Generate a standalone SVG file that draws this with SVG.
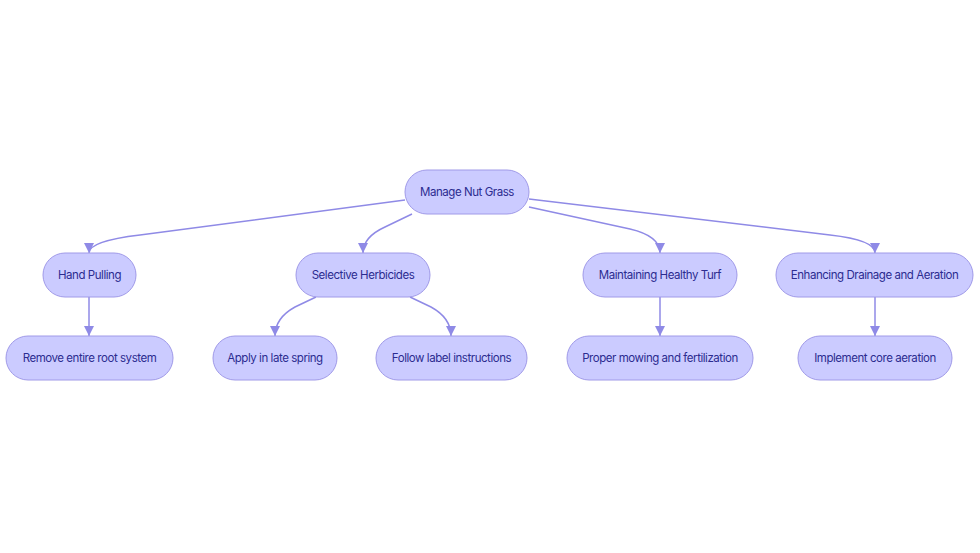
<svg xmlns="http://www.w3.org/2000/svg" width="980" height="553" viewBox="0 0 980 553">
<defs>
<marker id="arr" viewBox="0 0 10 10" refX="10" refY="5" markerWidth="10" markerHeight="10" markerUnits="userSpaceOnUse" orient="auto">
<path d="M0,0 L10,5 L0,10 z" fill="#8f8ae6"/>
</marker>
<style>
.n rect{fill:#cbcbff;stroke:#a09ae8;stroke-width:1}
.n text{font-family:Inter,"Open Sans","Liberation Sans",sans-serif;font-size:11.5px;letter-spacing:-0.45px;fill:#2c2c90;text-anchor:middle;dominant-baseline:central}
.e path{fill:none;stroke:#8f8ae6;stroke-width:1.5;marker-end:url(#arr)}
</style>
</defs>
<rect width="980" height="553" fill="#ffffff"/>
<g class="e" id="edges">
<path d="M405,200 L140,235 Q89,241 89,253"/>
<path d="M412,214 L385,227 Q363,237 363,253"/>
<path d="M529,207 L630,229 Q660,236 660,253"/>
<path d="M529,199 L830,235 Q875,240 875,253"/>
<path d="M89,297 L89,336"/>
<path d="M316,297 L295,307 Q275,318 275,336"/>
<path d="M410,297 L431,307 Q451,318 451,336"/>
<path d="M660,297 L660,336"/>
<path d="M875,297 L875,336"/>
</g>
<g class="n" id="root"><rect x="405" y="170" width="124" height="44" rx="22"/><text x="467" y="192">Manage Nut Grass</text></g>
<g class="n" id="hand"><rect x="43" y="253" width="93" height="44" rx="22"/><text x="89.5" y="275">Hand Pulling</text></g>
<g class="n" id="herb"><rect x="296" y="253" width="134" height="44" rx="22"/><text x="363" y="275">Selective Herbicides</text></g>
<g class="n" id="turf"><rect x="583" y="253" width="154" height="44" rx="22"/><text x="660" y="275">Maintaining Healthy Turf</text></g>
<g class="n" id="drain"><rect x="776" y="253" width="197" height="44" rx="22"/><text x="874.5" y="275">Enhancing Drainage and Aeration</text></g>
<g class="n" id="root_sys"><rect x="6" y="336" width="167" height="44" rx="22"/><text x="89.5" y="358">Remove entire root system</text></g>
<g class="n" id="spring"><rect x="213" y="336" width="124" height="44" rx="22"/><text x="275" y="358">Apply in late spring</text></g>
<g class="n" id="label"><rect x="376" y="336" width="151" height="44" rx="22"/><text x="451.5" y="358">Follow label instructions</text></g>
<g class="n" id="mow"><rect x="567" y="336" width="186" height="44" rx="22"/><text x="660" y="358">Proper mowing and fertilization</text></g>
<g class="n" id="core"><rect x="798" y="336" width="154" height="44" rx="22"/><text x="875" y="358">Implement core aeration</text></g>
</svg>
